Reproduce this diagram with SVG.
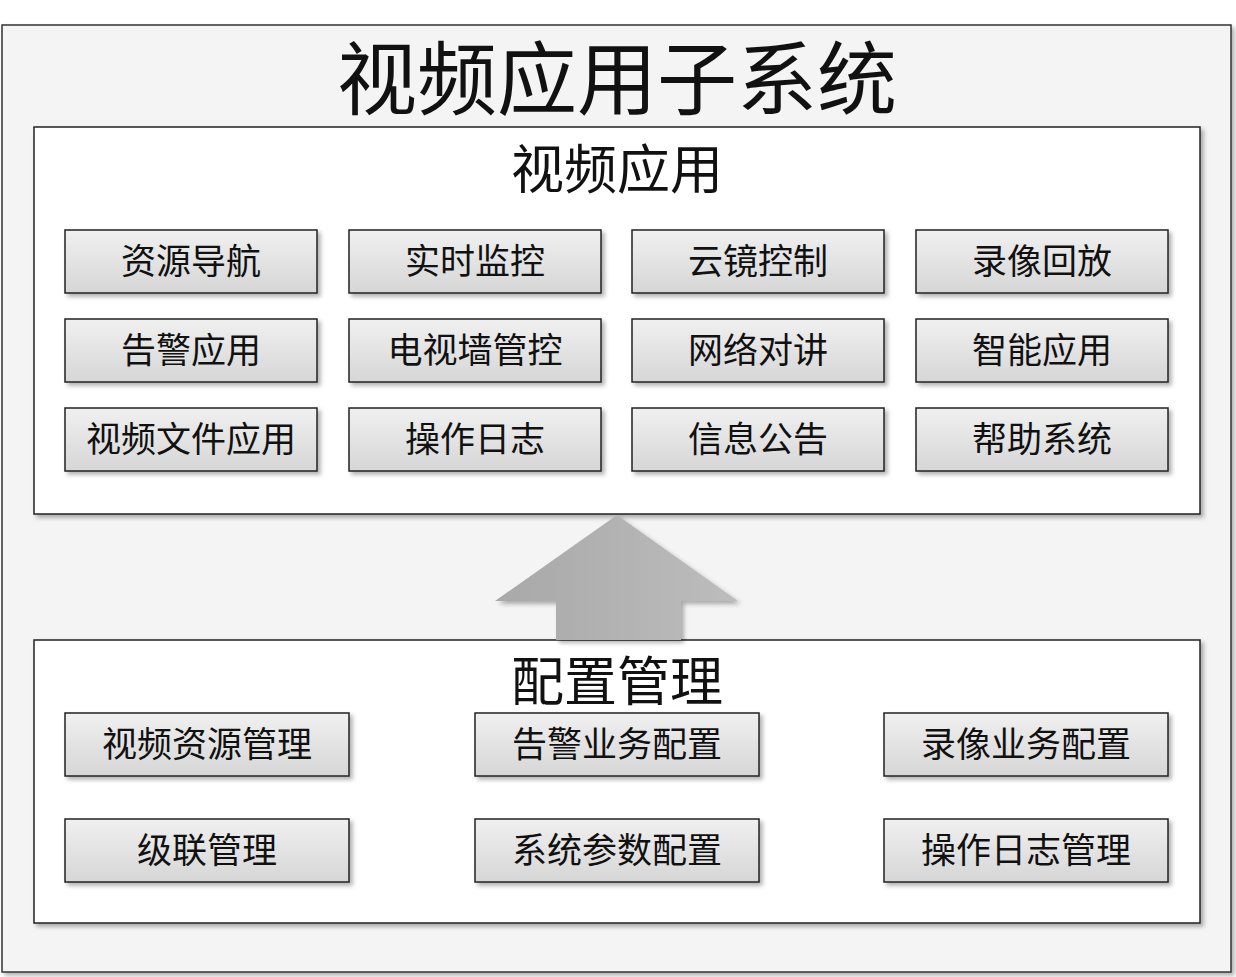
<svg xmlns="http://www.w3.org/2000/svg" width="1236" height="977" viewBox="0 0 1236 977">
<defs>
<linearGradient id="g" x1="0" y1="0" x2="0" y2="1"><stop offset="0" stop-color="#f0f0f0"/><stop offset="1" stop-color="#d6d6d6"/></linearGradient>
<linearGradient id="ag" x1="0" y1="0" x2="1" y2="0"><stop offset="0" stop-color="#a8a8a8"/><stop offset="1" stop-color="#bdbdbd"/></linearGradient>
<filter id="sh" x="-10%" y="-20%" width="130%" height="150%"><feDropShadow dx="3" dy="3" stdDeviation="2" flood-color="#000" flood-opacity="0.3"/></filter>
</defs>
<style>
.b{fill:url(#g);stroke:#222;stroke-width:1.5;filter:url(#sh)}
.t{font-family:"Noto Sans CJK SC",sans-serif;font-size:35px;text-anchor:middle;fill:#111}
.h{font-family:"Noto Sans CJK SC",sans-serif;text-anchor:middle;fill:#111}
</style>
<rect x="2" y="25" width="1229" height="947" fill="#f4f4f4" stroke="#333" stroke-width="1.5" filter="url(#sh)"/>
<text class="h" x="617" y="108" font-size="80">视频应用子系统</text>
<g id="app">
<rect x="34" y="127" width="1166" height="387" fill="#fff" stroke="#222" stroke-width="1.5" filter="url(#sh)"/>
<text class="h" x="617" y="189" font-size="53">视频应用</text>
</g>
<g id="cfg">
<rect x="34" y="640" width="1166" height="283" fill="#fff" stroke="#222" stroke-width="1.5" filter="url(#sh)"/>
<text class="h" x="617" y="701" font-size="53">配置管理</text>
</g>
<g id="n1"><rect class="b" x="65" y="230" width="252" height="63"/><text class="t" x="191" y="274">资源导航</text></g>
<g id="n2"><rect class="b" x="349" y="230" width="252" height="63"/><text class="t" x="475" y="274">实时监控</text></g>
<g id="n3"><rect class="b" x="632" y="230" width="252" height="63"/><text class="t" x="758" y="274">云镜控制</text></g>
<g id="n4"><rect class="b" x="916" y="230" width="252" height="63"/><text class="t" x="1042" y="274">录像回放</text></g>
<g id="n5"><rect class="b" x="65" y="319" width="252" height="63"/><text class="t" x="191" y="363">告警应用</text></g>
<g id="n6"><rect class="b" x="349" y="319" width="252" height="63"/><text class="t" x="475" y="363">电视墙管控</text></g>
<g id="n7"><rect class="b" x="632" y="319" width="252" height="63"/><text class="t" x="758" y="363">网络对讲</text></g>
<g id="n8"><rect class="b" x="916" y="319" width="252" height="63"/><text class="t" x="1042" y="363">智能应用</text></g>
<g id="n9"><rect class="b" x="65" y="408" width="252" height="63"/><text class="t" x="191" y="452">视频文件应用</text></g>
<g id="n10"><rect class="b" x="349" y="408" width="252" height="63"/><text class="t" x="475" y="452">操作日志</text></g>
<g id="n11"><rect class="b" x="632" y="408" width="252" height="63"/><text class="t" x="758" y="452">信息公告</text></g>
<g id="n12"><rect class="b" x="916" y="408" width="252" height="63"/><text class="t" x="1042" y="452">帮助系统</text></g>
<g id="m1"><rect class="b" x="65" y="713" width="284" height="63"/><text class="t" x="207" y="757">视频资源管理</text></g>
<g id="m2"><rect class="b" x="475" y="713" width="284" height="63"/><text class="t" x="617" y="757">告警业务配置</text></g>
<g id="m3"><rect class="b" x="884" y="713" width="284" height="63"/><text class="t" x="1026" y="757">录像业务配置</text></g>
<g id="m4"><rect class="b" x="65" y="819" width="284" height="63"/><text class="t" x="207" y="863">级联管理</text></g>
<g id="m5"><rect class="b" x="475" y="819" width="284" height="63"/><text class="t" x="617" y="863">系统参数配置</text></g>
<g id="m6"><rect class="b" x="884" y="819" width="284" height="63"/><text class="t" x="1026" y="863">操作日志管理</text></g>
<g id="connectors">
<polygon points="617,515 738,601 681,601 681,640 556,640 556,601 495,601" fill="url(#ag)" filter="url(#sh)"/>
</g>
</svg>
